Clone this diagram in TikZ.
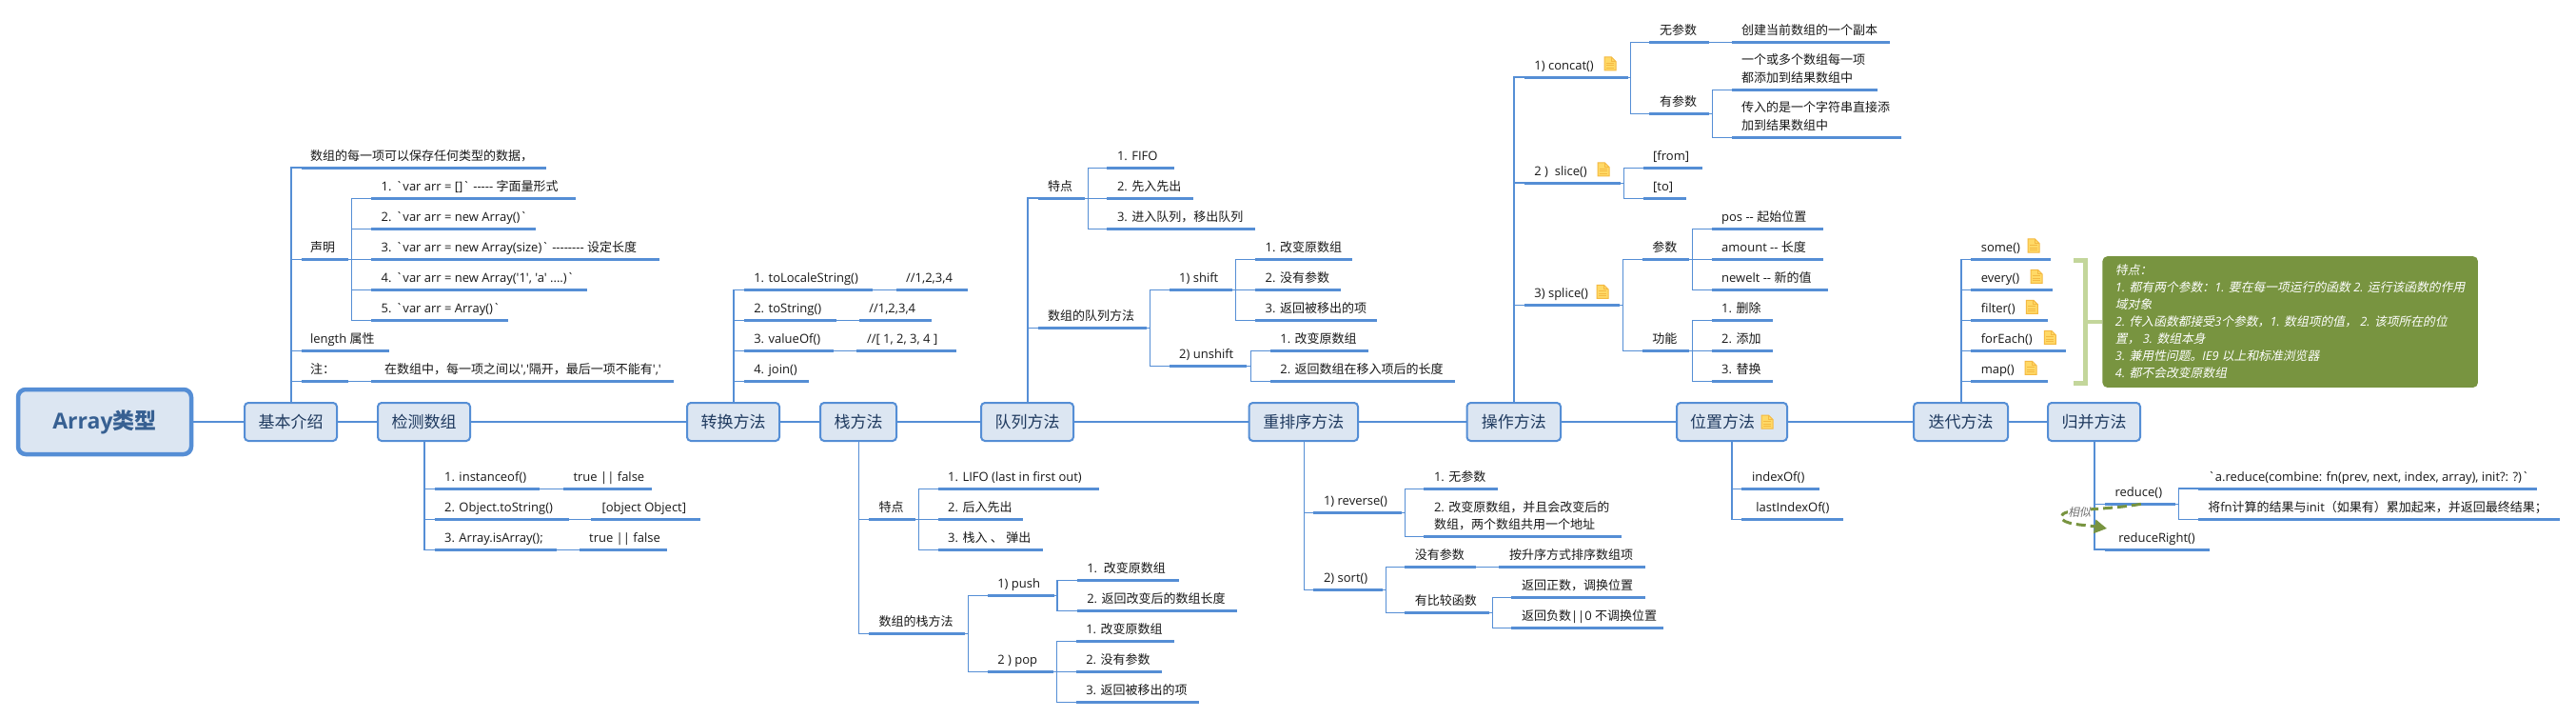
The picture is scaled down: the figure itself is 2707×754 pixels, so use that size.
\documentclass[tikz,border=0pt]{standalone}
\usepackage{fontspec}
\usetikzlibrary{arrows.meta}
\newfontfamily\cjkf{Noto Sans CJK SC}
\newfontfamily\cjkit[FakeSlant=0.2]{Noto Sans CJK SC}
\newfontfamily\latinf{Open Sans}
% switch fonts between Latin and CJK runs
\newcommand\cjkswitch{\cjkf}
\newcommand\latswitch{\latinf}
\count255="3000
\loop\ifnum\count255<"3100 \XeTeXcharclass\count255=1 \advance\count255 by 1 \repeat
\count255="4E00
\loop\ifnum\count255<"A000 \XeTeXcharclass\count255=1 \advance\count255 by 1 \repeat
\count255="FF00
\loop\ifnum\count255<"FFF0 \XeTeXcharclass\count255=1 \advance\count255 by 1 \repeat
\XeTeXinterchartokenstate=1
\XeTeXinterchartoks 0 1 = {\cjkswitch}
\XeTeXinterchartoks 4095 1 = {\cjkswitch}
\XeTeXinterchartoks 1 0 = {\latswitch}
\XeTeXinterchartoks 1 4095 = {\latswitch}
\definecolor{lineblue}{HTML}{558ED5}
\definecolor{topicfill}{HTML}{DCE6F2}
\definecolor{topictext}{HTML}{1F3A5F}
\definecolor{roottext}{HTML}{376092}
\definecolor{olive}{HTML}{789440}
\definecolor{bracketgreen}{HTML}{C3D69B}
\definecolor{iconfill}{HTML}{FFD966}
\definecolor{iconedge}{HTML}{F4B942}
\tikzset{
  leaf/.style={anchor=south west,inner sep=0pt,outer sep=0pt,text depth=8pt,text=black!90,
    font={\latinf\fontsize{13}{15}\selectfont}},
  uline/.style={draw=lineblue,line width=3pt},
  conn/.style={draw=lineblue,line width=1.3pt},
  trunk/.style={draw=lineblue,line width=1.6pt},
  topic/.style={draw=lineblue,fill=topicfill,line width=2pt,rounded corners=4pt,inner sep=0pt,
    minimum height=40pt,text=topictext,font={\cjkf\fontsize{17}{20}\selectfont}},
  rootbox/.style={draw=lineblue,fill=topicfill,line width=4.5pt,rounded corners=8pt,inner sep=0pt,
    minimum width=182pt,minimum height=68pt,text=roottext,font={\latinf\bfseries\fontsize{23}{28}\selectfont}},
  bracketline/.style={draw=bracketgreen,line width=4.8pt},
  callout/.style={anchor=north west,fill=olive,rounded corners=5pt,inner sep=0pt,
    minimum width=394.5pt,minimum height=137.7pt,align=left,text=white,
    font={\renewcommand\cjkswitch{\cjkit}\renewcommand\latswitch{\latinf\itshape}\latinf\itshape\fontsize{12.8}{18}\selectfont}},
  simlabel/.style={inner sep=0pt,fill=white,text=black!55,font={\renewcommand\cjkswitch{\cjkit}\cjkit\fontsize{12}{14}\selectfont}},
  simarrow/.style={draw=olive,line width=3pt,dash pattern=on 10pt off 5pt,
    -{Triangle[length=13pt,width=14pt,fill=olive]}},
}
% [text pad]{name}{x1}{x2}{y}{text}
\newcommand\leafnode[6][10.6]{%
  \pgfmathsetmacro\leafw{#4-#3}%
  \node[leaf] (#2) at (#3,#5) {\makebox[\leafw pt][l]{\hspace*{#1pt}#6}};
  \draw[uline] (#2.south west) -- (#2.south east);}
% two-line leaf text
\newcommand\twol[2]{\vbox{\baselineskip=18.3pt\lineskiplimit=-100pt\hbox{#1}\hbox{#2}}}
% {name}{x1}{x2}{text}
\newcommand\topicnode[4]{%
  \pgfmathsetmacro\tpw{#3-#2}\pgfmathsetmacro\tpc{(#3+#2)/2}%
  \node[topic,minimum width=\tpw pt] (#1) at (\tpc,443) {#4};}
% {a}{b}{bar x}: from a's underline through a bar to b's underline
\newcommand\branch[3]{\draw[conn] (#1.south east) -- (#3,0 |- #1.south east) |- (#2.south west);}
\newcommand\follow[2]{\draw[conn] (#1.south east) -- (#2.south west);}
% {topic}{child}{bar x}: trunk up (north) or down (south)
\newcommand\trunkup[3]{\draw[trunk] (#3,0 |- #1.north) |- (#2.south west);}
\newcommand\trunkdown[3]{\draw[trunk] (#3,0 |- #1.south) |- (#2.south west);}
\newcommand\docicon[2]{%
  \begin{scope}[shift={(#1,#2)}]
    \draw[fill=iconfill,draw=iconedge,line width=1pt] (0,0) -- (7.5,0) -- (12,4.5) -- (12,14) -- (0,14) -- cycle;
    \draw[draw=iconedge,line width=1pt] (7.5,0) -- (7.5,4.5) -- (12,4.5) (2,6.5) -- (10,6.5) (2,9) -- (10,9) (2,11.5) -- (10,11.5);
  \end{scope}}
\begin{document}
\begin{tikzpicture}[x=1pt,y=-1pt]
\useasboundingbox (0,0) rectangle (2707,754);
\fill[white] (0,0) rectangle (2707,754);

% main row
\node[rootbox] (root) at (110,443) {Array类型};
\topicnode{t1}{257}{354}{基本介绍}
\topicnode{t2}{397}{494}{检测数组}
\topicnode{t3}{722}{819}{转换方法}
\topicnode{t4}{862}{942}{栈方法}
\topicnode{t5}{1031}{1128}{队列方法}
\topicnode{t6}{1312.5}{1427}{重排序方法}
\topicnode{t7}{1541.5}{1640}{操作方法}
\topicnode{t8}{1762}{1878}{\makebox[88pt][l]{位置方法}}
\topicnode{t9}{2011}{2110}{迭代方法}
\topicnode{t10}{2152}{2249}{归并方法}
\draw[conn] (root) -- (t1);
\draw[conn] (t1) -- (t2);
\draw[conn] (t2) -- (t3);
\draw[conn] (t3) -- (t4);
\draw[conn] (t4) -- (t5);
\draw[conn] (t5) -- (t6);
\draw[conn] (t6) -- (t7);
\draw[conn] (t7) -- (t8);
\draw[conn] (t8) -- (t9);
\draw[conn] (t9) -- (t10);
\docicon{1851}{436}

% 基本介绍
\leafnode[9.5]{a1}{316.5}{574}{176.3}{数组的每一项可以保存任何类型的数据，}
\leafnode[9.5]{a2}{316.5}{366}{272.3}{声明}
\leafnode[9.5]{a3}{316.5}{408.5}{368.3}{length 属性}
\leafnode[9.5]{a4}{316.5}{366}{400.3}{注：}
\leafnode{a21}{390}{604.5}{208.3}{1. `var arr = []` ----- 字面量形式}
\leafnode{a22}{390}{563}{240.3}{2. `var arr = new Array()`}
\leafnode{a23}{390}{693}{272.3}{3. `var arr = new Array(size)` -------- 设定长度}
\leafnode{a24}{390}{616.5}{304.3}{4. `var arr = new Array('1', 'a' ....)`}
\leafnode{a25}{390}{534}{336.3}{5. `var arr = Array()`}
\leafnode[14]{a41}{390}{708}{400.3}{在数组中，每一项之间以','隔开，最后一项不能有','}
\trunkup{t1}{a1}{306}
\trunkup{t1}{a2}{306}
\trunkup{t1}{a3}{306}
\trunkup{t1}{a4}{306}
\branch{a2}{a21}{369.6}
\branch{a2}{a22}{369.6}
\branch{a2}{a23}{369.6}
\branch{a2}{a24}{369.6}
\branch{a2}{a25}{369.6}
\follow{a4}{a41}

% 检测数组
\leafnode{b1}{456.5}{567}{513.3}{1. instanceof()}
\leafnode{b2}{456.5}{598}{545.3}{2. Object.toString()}
\leafnode{b3}{456.5}{584.6}{577.3}{3. Array.isArray();}
\leafnode{b11}{592}{685}{513.3}{true || false}
\leafnode[11.5]{b21}{621}{736}{545.3}{[object Object]}
\leafnode{b31}{608.6}{701.4}{577.3}{true || false}
\trunkdown{t2}{b1}{446}
\trunkdown{t2}{b2}{446}
\trunkdown{t2}{b3}{446}
\follow{b1}{b11}
\follow{b2}{b21}
\follow{b3}{b31}

% 转换方法
\leafnode{c1}{781.7}{917.4}{304.3}{1. toLocaleString()}
\leafnode{c2}{781.7}{878.6}{336.3}{2. toString()}
\leafnode{c3}{781.7}{876.3}{368.3}{3. valueOf()}
\leafnode{c4}{781.7}{850.4}{400.3}{4. join()}
\leafnode{c11}{941.5}{1017.4}{304.3}{//1,2,3,4}
\leafnode{c21}{902.7}{978.6}{336.3}{//1,2,3,4}
\leafnode{c31}{900.4}{1005.4}{368.3}{//[ 1, 2, 3, 4 ]}
\trunkup{t3}{c1}{771}
\trunkup{t3}{c2}{771}
\trunkup{t3}{c3}{771}
\trunkup{t3}{c4}{771}
\follow{c1}{c11}
\follow{c2}{c21}
\follow{c3}{c31}

% 栈方法
\leafnode{d1}{913}{961.6}{545.3}{特点}
\leafnode{d2}{913}{1014}{665.3}{数组的栈方法}
\leafnode{d11}{985.6}{1154.5}{513.3}{1. LIFO (last in first out)}
\leafnode{d12}{985.6}{1075.4}{545.3}{2. 后入先出}
\leafnode{d13}{985.6}{1096}{577.3}{3. 栈入 、 弹出}
\leafnode{d21}{1037.7}{1107.5}{625.3}{1) push}
\leafnode{d22}{1037.7}{1106.5}{705.3}{2 ) pop}
\leafnode{d211}{1131.7}{1238.7}{609.3}{1.\ \ 改变原数组}
\leafnode{d212}{1131.7}{1299.7}{641.3}{2. 返回改变后的数组长度}
\leafnode{d221}{1130.7}{1233.7}{673.3}{1. 改变原数组}
\leafnode{d222}{1130.7}{1220.7}{705.3}{2. 没有参数}
\leafnode{d223}{1130.7}{1259.7}{737.3}{3. 返回被移出的项}
\trunkdown{t4}{d1}{902.4}
\trunkdown{t4}{d2}{902.4}
\branch{d1}{d11}{965.7}
\branch{d1}{d12}{965.7}
\branch{d1}{d13}{965.7}
\branch{d2}{d21}{1017.8}
\branch{d2}{d22}{1017.8}
\branch{d21}{d211}{1111}
\branch{d21}{d212}{1111}
\branch{d22}{d221}{1110.6}
\branch{d22}{d222}{1110.6}
\branch{d22}{d223}{1110.6}

% 队列方法
\leafnode{e1}{1090.6}{1139.7}{208.3}{特点}
\leafnode{e2}{1090.6}{1205.4}{344.3}{数组的队列方法}
\leafnode{e11}{1163.4}{1234.4}{176.3}{1. FIFO}
\leafnode{e12}{1163.4}{1253.6}{208.3}{2. 先入先出}
\leafnode{e13}{1163.4}{1318.8}{240.3}{3. 进入队列，移出队列}
\leafnode{e21}{1228.6}{1295}{304.3}{1) shift}
\leafnode{e22}{1228.6}{1310.3}{384.3}{2) unshift}
\leafnode{e211}{1319}{1421.3}{272.3}{1. 改变原数组}
\leafnode{e212}{1319}{1408.7}{304.3}{2. 没有参数}
\leafnode{e213}{1319}{1447.3}{336.3}{3. 返回被移出的项}
\leafnode{e221}{1334.7}{1437.7}{368.3}{1. 改变原数组}
\leafnode{e222}{1334.7}{1528.7}{400.3}{2. 返回数组在移入项后的长度}
\trunkup{t5}{e1}{1080}
\trunkup{t5}{e2}{1080}
\branch{e1}{e11}{1143.3}
\branch{e1}{e12}{1143.3}
\branch{e1}{e13}{1143.3}
\branch{e2}{e21}{1208.5}
\branch{e2}{e22}{1208.5}
\branch{e21}{e211}{1298.7}
\branch{e21}{e212}{1298.7}
\branch{e21}{e213}{1298.7}
\branch{e22}{e221}{1314.3}
\branch{e22}{e222}{1314.3}

% 重排序方法
\leafnode{f1}{1380.4}{1472.8}{538.3}{1) reverse()}
\leafnode{f2}{1380.4}{1452.7}{619.3}{2) sort()}
\leafnode{f11}{1496.4}{1573.7}{513.3}{1. 无参数}
\leafnode{f12}{1496.4}{1703.6}{563.3}{\twol{2. 改变原数组，并且会改变后的}{数组，两个数组共用一个地址}}
\leafnode{f21}{1476.3}{1551.3}{595.3}{没有参数}
\leafnode{f22}{1476.3}{1564.7}{643.3}{有比较函数}
\leafnode{f211}{1575.4}{1728.6}{595.3}{按升序方式排序数组项}
\leafnode{f221}{1588.4}{1728.6}{627.3}{返回正数，调换位置}
\leafnode{f222}{1588.4}{1748.2}{659.3}{返回负数||0 不调换位置}
\trunkdown{t6}{f1}{1370.5}
\trunkdown{t6}{f2}{1370.5}
\branch{f1}{f11}{1476.3}
\branch{f1}{f12}{1476.3}
\branch{f2}{f21}{1456.3}
\branch{f2}{f22}{1456.3}
\follow{f21}{f211}
\branch{f22}{f221}{1568.3}
\branch{f22}{f222}{1568.3}

% 操作方法
\leafnode{g1}{1601.8}{1710.5}{81.3}{1) concat()}
\leafnode{g2}{1601.8}{1702.8}{192.3}{2 ) \ slice()}
\leafnode{g3}{1601.8}{1702}{320.3}{3) splice()}
\docicon{1686}{60}
\docicon{1679}{171}
\docicon{1678}{299.3}
\leafnode{g11}{1733.4}{1795.8}{44.3}{无参数}
\leafnode{g12}{1733.4}{1795.8}{119.3}{有参数}
\leafnode{g111}{1819.6}{1985.6}{44.3}{创建当前数组的一个副本}
\leafnode{g121}{1819.6}{1972.6}{94.3}{\twol{一个或多个数组每一项}{都添加到结果数组中}}
\leafnode{g122}{1819.6}{1998.3}{144.3}{\twol{传入的是一个字符串直接添}{加到结果数组中}}
\leafnode{g21}{1726.6}{1788.6}{176.3}{[from]}
\leafnode{g22}{1726.6}{1771.7}{208.3}{[to]}
\leafnode{g31}{1725.8}{1774.8}{272.3}{参数}
\leafnode{g32}{1725.8}{1774.8}{368.3}{功能}
\leafnode{g311}{1798.5}{1915.6}{240.3}{pos -- 起始位置}
\leafnode{g312}{1798.5}{1915.6}{272.3}{amount -- 长度}
\leafnode{g313}{1798.5}{1920.6}{304.3}{newelt -- 新的值}
\leafnode{g321}{1798.5}{1862.8}{336.3}{1. 删除}
\leafnode{g322}{1798.5}{1862.8}{368.3}{2. 添加}
\leafnode{g323}{1798.5}{1862.8}{400.3}{3. 替换}
\trunkup{t7}{g1}{1591}
\trunkup{t7}{g2}{1591}
\trunkup{t7}{g3}{1591}
\branch{g1}{g11}{1713.5}
\branch{g1}{g12}{1713.5}
\follow{g11}{g111}
\branch{g12}{g121}{1799.3}
\branch{g12}{g122}{1799.3}
\branch{g2}{g21}{1706.3}
\branch{g2}{g22}{1706.3}
\branch{g3}{g31}{1705.5}
\branch{g3}{g32}{1705.5}
\branch{g31}{g311}{1778.6}
\branch{g31}{g312}{1778.6}
\branch{g31}{g313}{1778.6}
\branch{g32}{g321}{1778.6}
\branch{g32}{g322}{1778.6}
\branch{g32}{g323}{1778.6}

% 位置方法
\leafnode{h1}{1830.4}{1911.6}{513.3}{indexOf()}
\leafnode[15]{h2}{1830.4}{1937}{545.3}{lastIndexOf()}
\trunkdown{t8}{h1}{1820}
\trunkdown{t8}{h2}{1820}

% 迭代方法
\leafnode{i1}{2071.2}{2154.6}{272.3}{some()}
\leafnode{i2}{2071.2}{2157.4}{304.3}{every()}
\leafnode{i3}{2071.2}{2152.4}{336.3}{filter()}
\leafnode{i4}{2071.2}{2171.3}{368.3}{forEach()}
\leafnode{i5}{2071.2}{2151.5}{400.3}{map()}
\docicon{2131}{251}
\docicon{2134}{283.3}
\docicon{2129.4}{315.3}
\docicon{2148.3}{347.3}
\docicon{2128}{379.3}
\trunkup{t9}{i1}{2060.9}
\trunkup{t9}{i2}{2060.9}
\trunkup{t9}{i3}{2060.9}
\trunkup{t9}{i4}{2060.9}
\trunkup{t9}{i5}{2060.9}
\node[callout] (note) at (2209.2,269) {特点：\\1. 都有两个参数：1. 要在每一项运行的函数 2. 运行该函数的作用\\域对象\\2. 传入函数都接受3个参数，1. 数组项的值， 2. 该项所在的位\\置， 3. 数组本身\\3. 兼用性问题。IE9 以上和标准浏览器\\4. 都不会改变原数组};
\draw[bracketline] (2179.4,273.5) -- (2191.6,273.5) -- (2191.6,402.3) -- (2179.4,402.3);
\draw[bracketline] (2191.6,338) -- (note.west |- 0,338);

% 归并方法
\leafnode{j1}{2212}{2285.8}{529.3}{reduce()}
\leafnode[14.3]{j2}{2212}{2321.5}{577}{reduceRight()}
\leafnode{j11}{2309.7}{2665.5}{513}{`a.reduce(combine: fn(prev, next, index, array), init?: ?)`}
\leafnode{j12}{2309.7}{2689.8}{545.3}{将fn计算的结果与init（如果有）累加起来，并返回最终结果；}
\trunkdown{t10}{j1}{2201}
\trunkdown{t10}{j2}{2201}
\branch{j1}{j11}{2289.5}
\branch{j1}{j12}{2289.5}
\coordinate (simstart) at ([xshift=-36pt]j1.south east);
\coordinate (simend) at ([xshift=2pt,yshift=22pt]j2.south west);
\draw[simarrow] (simstart) .. controls (2205,537) and (2166,533) .. (2166,543) .. controls (2167,551) and (2190,551) .. (simend);
\node[simlabel] (sim) at (2185,538) {相似};
\end{tikzpicture}
\end{document}
